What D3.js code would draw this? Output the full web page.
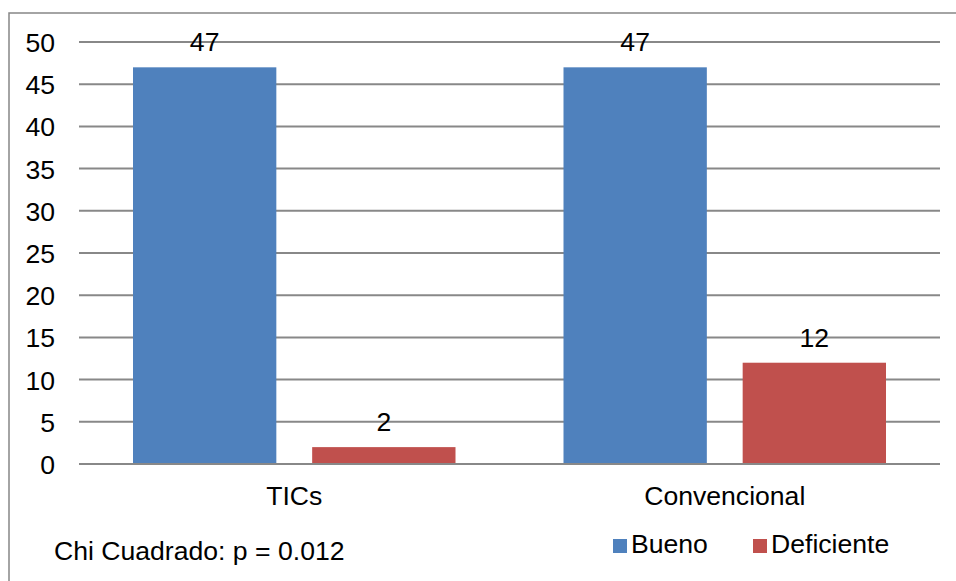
<!DOCTYPE html>
<html><head><meta charset="utf-8">
<script src="https://cdn.jsdelivr.net/npm/d3@7"></script>
<style>body{margin:0;background:#fff}svg{display:block;font-family:"Liberation Sans",Arial,sans-serif}</style>
</head><body><svg id="c" width="956" height="581"></svg>
<script>
const categories = ["TICs", "Convencional"];
const seriesNames = ["Bueno", "Deficiente"];
const bueno = [47, 47];
const deficiente = [2, 12];
const yTicks = [0, 5, 10, 15, 20, 25, 30, 35, 40, 45, 50];
const colors = ["#4F81BD", "#C0504D"];
const note = "Chi Cuadrado: p = 0.012";

(function () {
const FS = 26.6;
const FF = "Liberation Sans, Arial, sans-serif";
const svg = d3.select("#c");
svg.append("rect").attr("x", 9).attr("y", 13).attr("width", 1000).attr("height", 1000)
  .attr("fill", "#fff").attr("stroke", "#868686").attr("stroke-width", 1.5);

const pL = 79, pR = 940, pT = 42, pB = 464;
const y = d3.scaleLinear().domain([0, 50]).range([pB, pT]);
const x0 = d3.scaleBand().domain(categories).range([pL, pR]).paddingInner(0).paddingOuter(0);
const x1 = d3.scaleBand().domain(seriesNames).range([54, x0.bandwidth() - 54]).paddingInner(0.2).paddingOuter(0);

svg.append("g").selectAll("line").data(yTicks).join("line")
  .attr("x1", pL).attr("x2", pR)
  .attr("y1", d => y(d)).attr("y2", d => y(d))
  .attr("stroke", "#888").attr("stroke-width", 2);

const yAxis = d3.axisLeft(y).tickValues(yTicks).tickSize(0).tickPadding(0);
const gy = svg.append("g").attr("transform", "translate(55,0)").call(yAxis);
gy.select(".domain").remove();
gy.selectAll("text").attr("font-size", FS).attr("fill", "#000").attr("font-family", FF).attr("x", 0).attr("dy", "0.36em");

const data = categories.map((c, i) => ({cat: c, vals: [bueno[i], deficiente[i]]}));
const groups = svg.append("g").selectAll("g").data(data).join("g")
  .attr("transform", d => `translate(${x0(d.cat)},0)`);
groups.selectAll("rect").data(d => d.vals.map((v, j) => ({s: seriesNames[j], v, j}))).join("rect")
  .attr("x", d => x1(d.s)).attr("width", x1.bandwidth())
  .attr("y", d => y(d.v)).attr("height", d => y(0) - y(d.v))
  .attr("fill", d => colors[d.j]);
groups.selectAll("text").data(d => d.vals.map((v, j) => ({s: seriesNames[j], v, j}))).join("text")
  .attr("x", d => x1(d.s) + x1.bandwidth() / 2).attr("y", d => y(d.v) - 16)
  .attr("text-anchor", "middle").attr("font-size", FS).attr("fill", "#000").text(d => d.v);

svg.append("line").attr("x1", pL).attr("x2", pR).attr("y1", y(0)).attr("y2", y(0))
  .attr("stroke", "#888").attr("stroke-width", 2);

const xAxis = d3.axisBottom(x0).tickSize(0).tickPadding(0);
const gx = svg.append("g").attr("transform", "translate(0,505)").call(xAxis);
gx.select(".domain").remove();
gx.selectAll("text").attr("font-size", FS).attr("fill", "#000").attr("font-family", FF).attr("y", 0).attr("dy", 0);

const legX = [613, 753];
const leg = svg.append("g").selectAll("g").data(seriesNames).join("g")
  .attr("transform", (d, i) => `translate(${legX[i]},539)`);
leg.append("rect").attr("width", 14).attr("height", 14).attr("fill", (d, i) => colors[i]);
leg.append("text").attr("x", 18).attr("y", 14).attr("font-size", FS).attr("fill", "#000").text(d => d);

svg.append("text").attr("x", 54).attr("y", 560).attr("font-size", FS).attr("fill", "#000").text(note);
})();
</script></body></html>
